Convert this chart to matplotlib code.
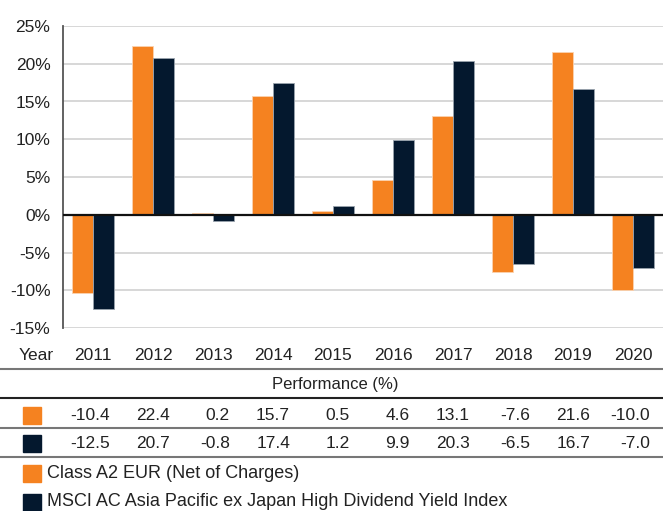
import matplotlib.pyplot as plt
import numpy as np
from matplotlib.lines import Line2D
from matplotlib.patches import Rectangle

years = ['2011', '2012', '2013', '2014', '2015', '2016', '2017', '2018', '2019', '2020']
fund = [-10.4, 22.4, 0.2, 15.7, 0.5, 4.6, 13.1, -7.6, 21.6, -10.0]
index = [-12.5, 20.7, -0.8, 17.4, 1.2, 9.9, 20.3, -6.5, 16.7, -7.0]
series_names = ['Class A2 EUR (Net of Charges)',
                'MSCI AC Asia Pacific ex Japan High Dividend Yield Index']
yticks = [-15, -10, -5, 0, 5, 10, 15, 20, 25]

orange = '#F58220'
navy = '#04182E'

plt.rcParams['font.family'] = ['Liberation Sans', 'DejaVu Sans']

W, H = 663, 511
fig = plt.figure(figsize=(W / 100, H / 100), dpi=100)

# axes box in pixels: left 63, right 663, top 26 (25%), bottom 328 (-15%)
ax = fig.add_axes([63 / W, 1 - 328 / H, 600 / W, 302 / H])
x = np.arange(len(years))
bw = 0.35
ax.bar(x - bw / 2 - 0.008, fund, bw, color=orange, edgecolor='#fbd3b0', linewidth=0.6, zorder=3)
ax.bar(x + bw / 2 + 0.008, index, bw, color=navy, edgecolor='#9aa3ad', linewidth=0.6, zorder=3)
ax.set_xlim(-0.5, len(years) - 0.5)
ax.set_ylim(-15, 25)
ax.set_yticks(yticks)
ax.set_yticklabels(['%d%%' % t for t in yticks], fontsize=12.5, color='#222222')
ax.tick_params(axis='y', length=0, pad=9)
ax.set_xticks([])
ax.grid(axis='y', color='#d4d4d4', linewidth=1.3, zorder=0)
ax.axhline(0, color='#111111', linewidth=1.6, zorder=4)
for s in ['top', 'right', 'bottom']:
    ax.spines[s].set_visible(False)
ax.spines['left'].set_color('#555555')
ax.spines['left'].set_linewidth(1.3)


def fx(px):
    return px / W


def fy(py):
    return 1 - py / H


centers = [63 + 60 * (i + 0.5) for i in range(len(years))]

# table
fig.text(fx(36), fy(355), 'Year', ha='center', va='center', fontsize=12.5, color='#222222')
for c, yr in zip(centers, years):
    fig.text(fx(c), fy(355), yr, ha='center', va='center', fontsize=12.5, color='#222222')
fig.text(fx(335), fy(384), 'Performance (%)', ha='center', va='center', fontsize=12, color='#222222')

for c, a, b in zip(centers, fund, index):
    fig.text(fx(c + 17), fy(415), '%.1f' % a, ha='right', va='center', fontsize=12.5, color='#222222')
    fig.text(fx(c + 17), fy(443), '%.1f' % b, ha='right', va='center', fontsize=12.5, color='#222222')

for py, col in [(369, '#777777'), (398, '#222222'), (428, '#777777'), (457, '#777777')]:
    fig.add_artist(Line2D([0, 1], [fy(py), fy(py)], color=col, linewidth=1.5))

# colour keys in table and legend
for py, col in [(415, orange), (443, navy), (473, orange), (502, navy)]:
    fig.add_artist(Rectangle((fx(23), fy(py + 8.5)), 18 / W, 17 / H, color=col))

fig.text(fx(47), fy(473), series_names[0], ha='left', va='center', fontsize=13, color='#222222')
fig.text(fx(47), fy(502), series_names[1], ha='left', va='center', fontsize=13, color='#222222')

fig.savefig('out.png', dpi=100)
